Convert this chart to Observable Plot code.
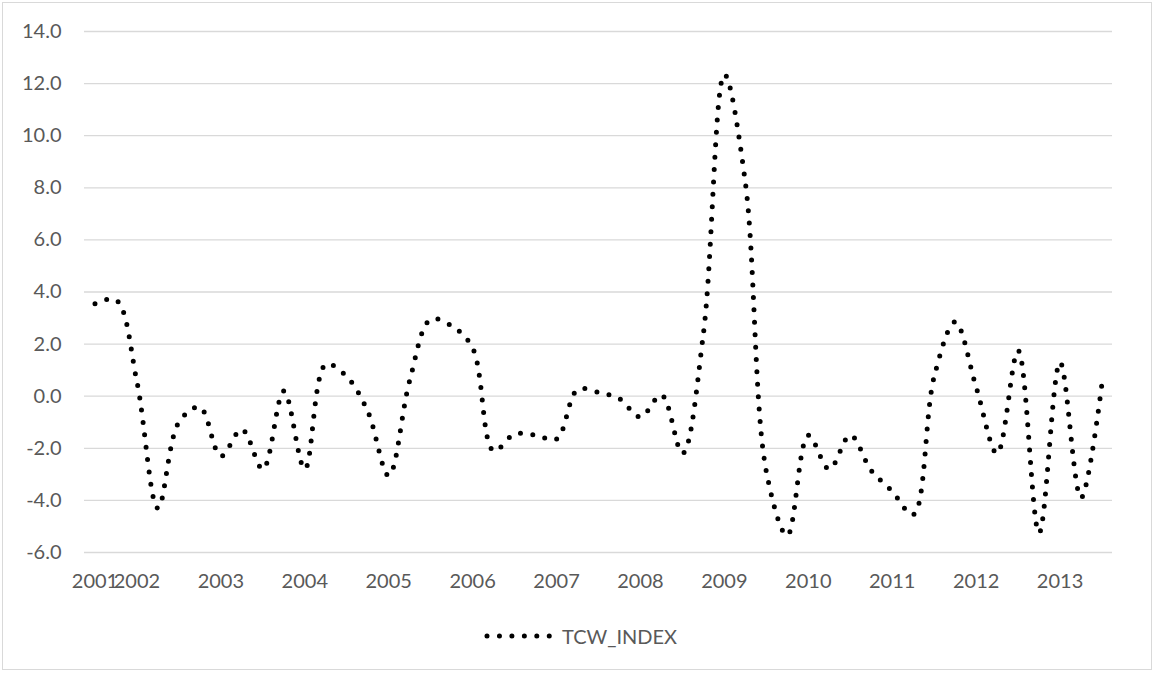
<!DOCTYPE html>
<html><head><meta charset="utf-8">
<script src="https://cdn.jsdelivr.net/npm/d3@7"></script>
<script src="https://cdn.jsdelivr.net/npm/@observablehq/plot@0.6"></script>
<style>
body{margin:0;background:#fff;font-family:Lato,"Open Sans",sans-serif;}
#chart{position:relative;width:1154px;height:673px;overflow:hidden;}
#frame{position:absolute;left:2px;top:2px;width:1150px;height:668px;border:1px solid #d9d9d9;box-sizing:border-box;}
#plot{position:absolute;left:0;top:0;}
#legend{position:absolute;left:0;top:624px;width:1154px;height:24px;}
#legend svg{position:absolute;left:482px;top:7px;}
#legend span{position:absolute;left:562px;top:0;font-size:20px;line-height:24px;color:#595959;}
</style></head>
<body><div id="chart"><div id="frame"></div><div id="plot"></div><div id="legend"></div></div>
<script>
// Series name
const seriesName = "TCW_INDEX";
// Quarterly categories, 2001 Q3 .. 2013 Q3
const startYear = 2001, startQuarter = 3, nQuarters = 49;
const quarters = [];
for (let k = 0; k < nQuarters; k++) {
  const q = startQuarter - 1 + k;
  quarters.push(`${startYear + Math.floor(q / 4)} Q${(q % 4) + 1}`);
}
// Values
const values = [
  3.55, 3.7, 0.55, -4.3, -1.0, -0.42, -2.3, -1.27, -2.8, 0.2,
  -2.8, 1.22, 0.75, -0.58, -3.05, 0.6, 2.95, 2.7, 1.85, -2.1,
  -1.45, -1.5, -1.65, 0.25, 0.15, -0.1, -0.8, 0.05, -2.2, 2.4,
  12.35, 8.2, -2.9, -5.35, -1.5, -2.8, -1.5, -2.85, -3.65, -4.55,
  0.75, 2.85, 0.35, -2.2, 1.75, -5.25, 1.3, -3.9, 0.5
];
// Y-axis ticks
const yTicks = [-6, -4, -2, 0, 2, 4, 6, 8, 10, 12, 14];

const data = quarters.map((q, i) => ({i, q, v: values[i]}));
const xTicks = quarters.map((q, i) => (i === 0 || q.endsWith("Q1")) ? i : -1).filter(i => i >= 0);

const chart = Plot.plot({
  width: 1154, height: 600,
  marginLeft: 84, marginRight: 42, marginTop: 31, marginBottom: 48,
  style: {fontFamily: "Lato, 'Open Sans', sans-serif", fontSize: "20px", color: "#595959", background: "transparent", overflow: "visible"},
  x: {domain: [-0.5, nQuarters - 0.5], axis: null},
  y: {domain: [-6, 14], axis: null},
  marks: [
    Plot.ruleY(yTicks, {stroke: "#d9d9d9", strokeWidth: 1.3}),
    Plot.axisY(yTicks, {tickSize: 0, tickPadding: 23, tickFormat: d => d.toFixed(1), fill: "#595959", label: null}),
    Plot.axisX(xTicks, {tickSize: 0, tickPadding: 21, tickFormat: i => quarters[i].slice(0, 4), fill: "#595959", label: null}),
    Plot.line(data, {x: "i", y: "v", curve: "catmull-rom", stroke: "#000", strokeWidth: 5, strokeDasharray: "0 12.4", strokeLinecap: "round"})
  ]
});
document.getElementById("plot").appendChild(chart);

// Legend
const legend = document.getElementById("legend");
const ns = "http://www.w3.org/2000/svg";
const ls = document.createElementNS(ns, "svg");
ls.setAttribute("width", 74); ls.setAttribute("height", 10);
const ll = document.createElementNS(ns, "line");
ll.setAttribute("x1", 5); ll.setAttribute("x2", 68); ll.setAttribute("y1", 5); ll.setAttribute("y2", 5);
ll.setAttribute("stroke", "#000"); ll.setAttribute("stroke-width", 5);
ll.setAttribute("stroke-dasharray", "0 12.45"); ll.setAttribute("stroke-linecap", "round");
ls.appendChild(ll);
legend.appendChild(ls);
const lt = document.createElement("span");
lt.textContent = seriesName;
legend.appendChild(lt);
</script>
</body></html>
